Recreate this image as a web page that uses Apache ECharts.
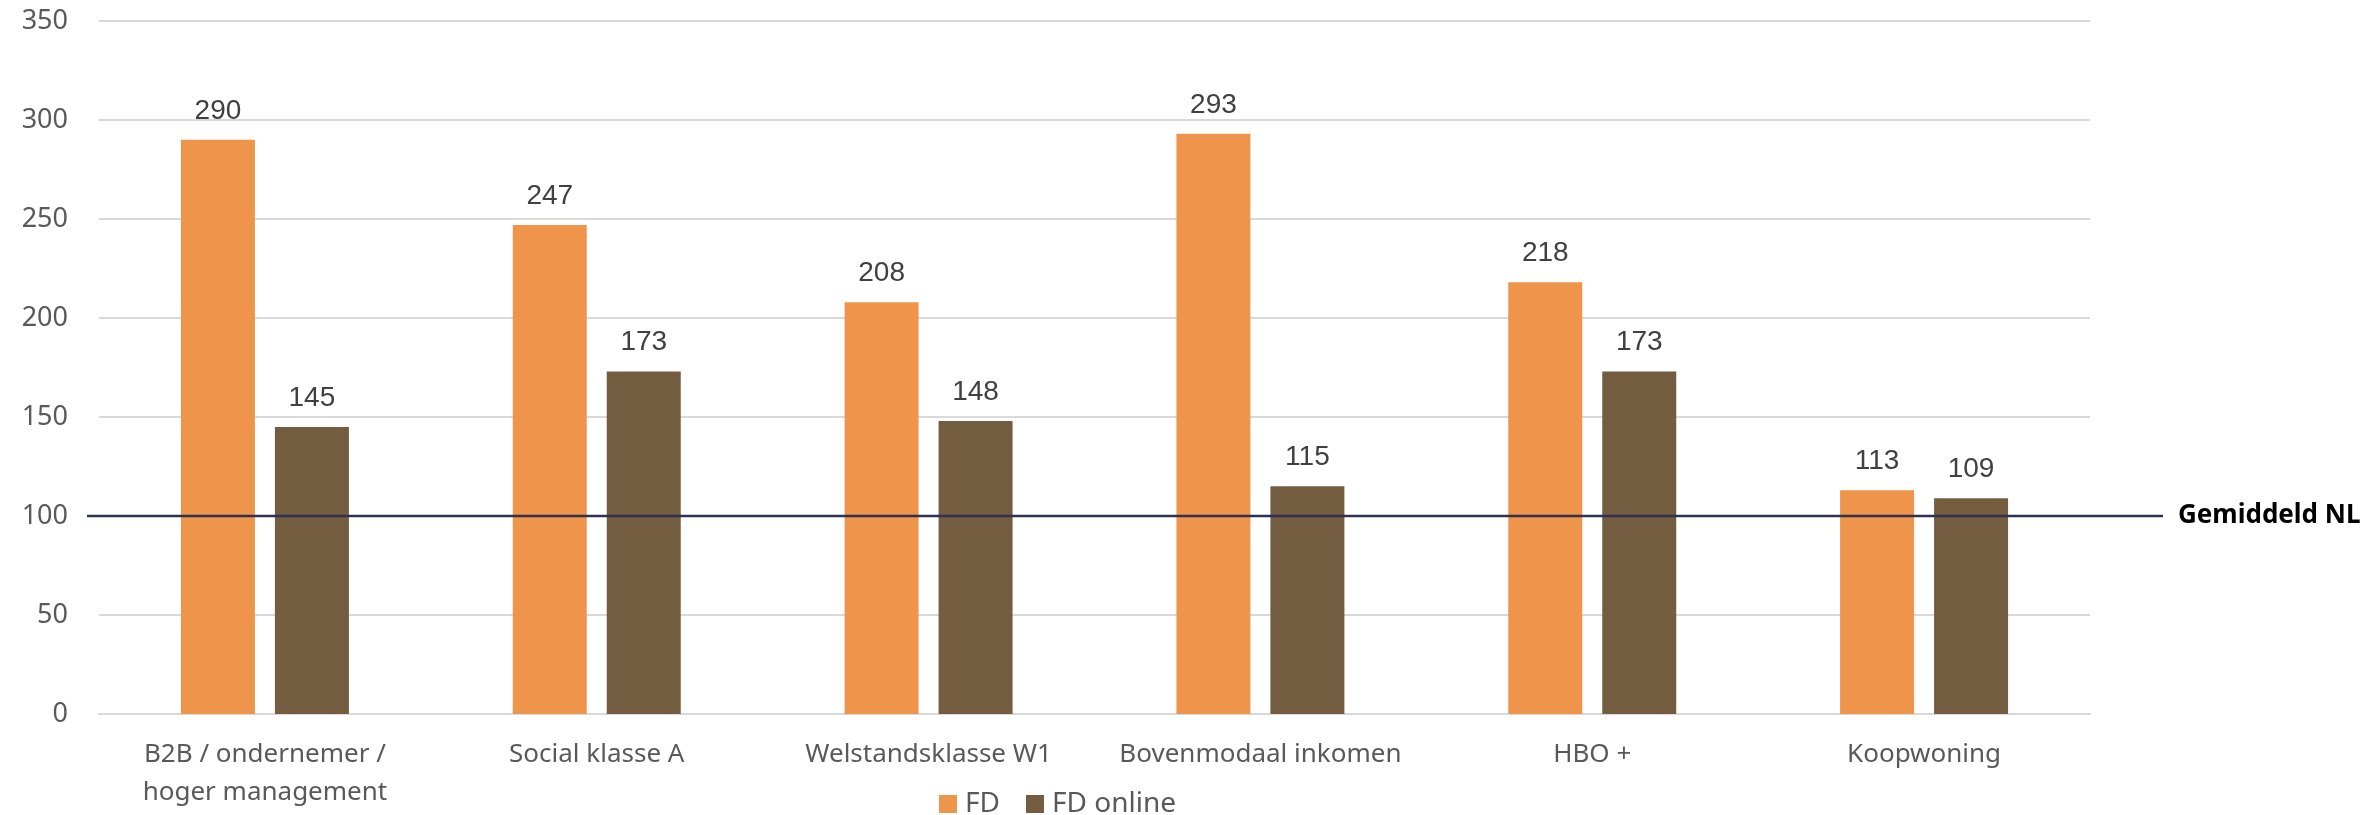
<!DOCTYPE html>
<html>
<head>
<meta charset="utf-8">
<script src="https://cdn.jsdelivr.net/npm/echarts@6/dist/echarts.min.js"></script>
<style>
  html, body { margin: 0; padding: 0; background: #fff; }
  #chart { width: 2374px; height: 815px; }
</style>
</head>
<body>
<div id="chart"></div>
<script>
  // categorieën en waarden
  const categories = [
    'B2B / ondernemer /\nhoger management',
    'Social klasse A',
    'Welstandsklasse W1',
    'Bovenmodaal inkomen',
    'HBO +',
    'Koopwoning'
  ];
  const fdValues = [290, 247, 208, 293, 218, 113];
  const fdOnlineValues = [145, 173, 148, 115, 173, 109];
  const averageNL = 100;

  const chart = echarts.init(document.getElementById('chart'));

  const axisFont = '"Noto Sans", sans-serif';
  const labelFont = '"Liberation Sans", Arial, sans-serif';

  const barLabel = {
    show: true,
    position: 'top',
    distance: 15,
    fontSize: 28,
    color: '#404040',
    fontFamily: labelFont
  };

  const option = {
    animation: false,
    legend: {
      data: ['FD', 'FD online'],
      left: 939,
      top: 790,
      padding: 0,
      itemWidth: 18,
      itemHeight: 18,
      itemGap: 26,
      icon: 'rect',
      textStyle: { fontSize: 28, color: '#595959', fontFamily: axisFont, padding: [0, 0, 0, 3] }
    },
    grid: [
      { left: 99, right: 284, top: 21, bottom: 101 },
      // extra grid voor de gemiddelde lijn (loopt door tot naast de plot)
      { left: 87, right: 211, top: 21, bottom: 101 }
    ],
    xAxis: [
      {
        type: 'category',
        gridIndex: 0,
        data: categories,
        axisTick: { show: false },
        axisLine: { lineStyle: { color: '#d9d9d9', width: 2 } },
        axisLabel: {
          fontSize: 26,
          color: '#595959',
          fontFamily: axisFont,
          lineHeight: 38,
          margin: 22,
          interval: 0
        }
      },
      {
        type: 'value',
        gridIndex: 1,
        min: 0,
        max: 1,
        show: false
      }
    ],
    yAxis: [
      {
        type: 'value',
        gridIndex: 0,
        min: 0,
        max: 350,
        interval: 50,
        axisLine: { show: false },
        axisTick: { show: false },
        splitLine: { lineStyle: { color: '#d9d9d9', width: 2 } },
        axisLabel: { fontSize: 27, color: '#595959', fontFamily: axisFont, margin: 31 }
      },
      {
        type: 'value',
        gridIndex: 1,
        min: 0,
        max: 350,
        show: false
      }
    ],
    series: [
      {
        name: 'FD',
        type: 'bar',
        data: fdValues,
        barWidth: 74,
        barGap: '27%',
        itemStyle: { color: '#ee944b' },
        label: barLabel
      },
      {
        name: 'FD online',
        type: 'bar',
        data: fdOnlineValues,
        barWidth: 74,
        itemStyle: { color: '#745c41' },
        label: barLabel
      },
      {
        name: 'Gemiddeld NL',
        type: 'line',
        xAxisIndex: 1,
        yAxisIndex: 1,
        data: [[0, averageNL], [1, averageNL]],
        showSymbol: false,
        silent: true,
        z: 5,
        lineStyle: { color: '#2d3250', width: 2.5 },
        endLabel: {
          show: true,
          formatter: 'Gemiddeld NL',
          distance: 15,
          fontSize: 26,
          fontWeight: 'bold',
          color: '#000000',
          fontFamily: axisFont
        }
      }
    ]
  };

  chart.setOption(option);
</script>
</body>
</html>
